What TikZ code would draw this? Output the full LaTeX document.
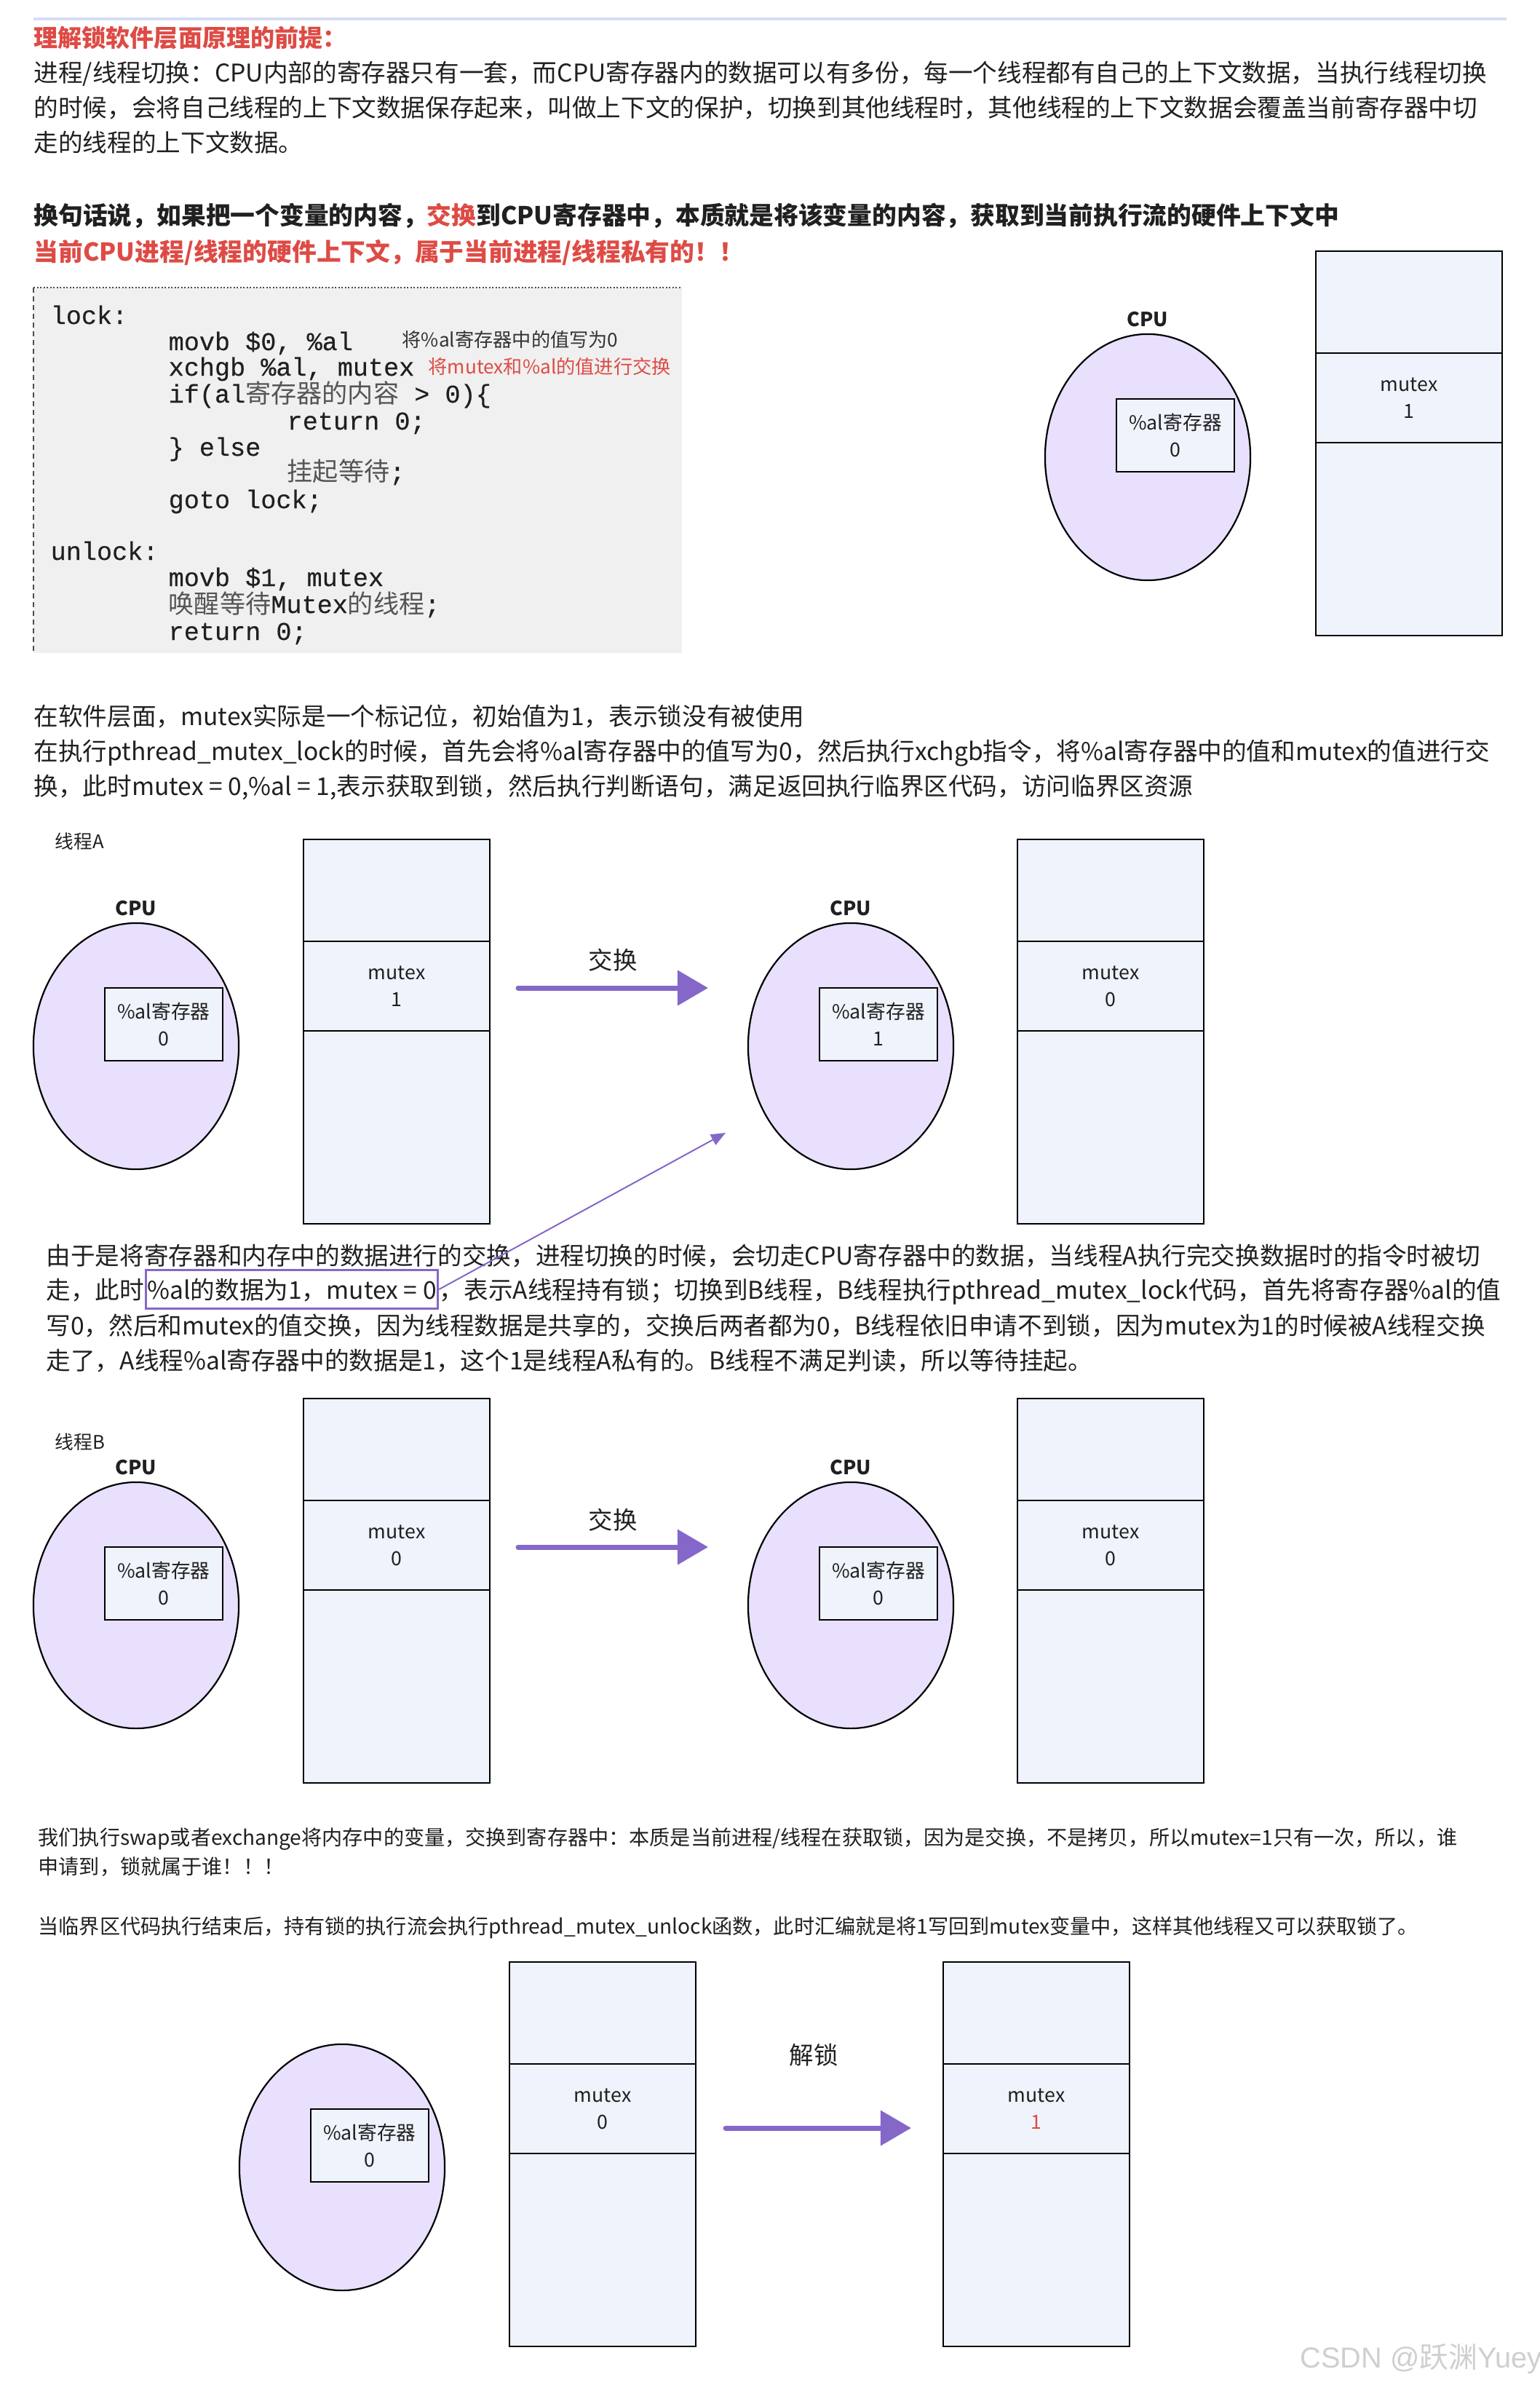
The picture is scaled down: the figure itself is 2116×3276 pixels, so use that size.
\documentclass[tikz,border=0pt]{standalone}
\usepackage{fontspec}
\setmainfont{Noto Sans CJK SC}
\newfontfamily\codefont{Liberation Mono}[FakeBold=0.4]
\newfontfamily\wmfont{Liberation Sans}
\usetikzlibrary{shapes.geometric,arrows.meta,calc}

\definecolor{txtc}{HTML}{202020}
\definecolor{redt}{HTML}{DE4B45}
\definecolor{rulec}{HTML}{D8DEF6}
\definecolor{codebg}{HTML}{F0F0F0}
\definecolor{cpufill}{HTML}{E8E0FC}
\definecolor{boxfill}{HTML}{EFF3FC}
\definecolor{arrowc}{HTML}{8567C9}
\definecolor{cjkgray}{HTML}{555555}
\definecolor{comgray}{HTML}{333333}

\newcommand\myBody{\fontsize{9.56pt}{12pt}\selectfont}
\newcommand\myBold{\fontsize{9.6pt}{12pt}\selectfont\bfseries}
\newcommand\myTitle{\fontsize{9.4pt}{12pt}\selectfont\bfseries}
\newcommand\mySmall{\fontsize{8pt}{10pt}\selectfont}
\newcommand\myDiag{\fontsize{7.6pt}{10.6pt}\selectfont}
\newcommand\myCpu{\fontsize{7.6pt}{9pt}\selectfont\bfseries}
\newcommand\myLab{\fontsize{9.5pt}{11pt}\selectfont}
\newcommand\myThr{\fontsize{7.3pt}{9pt}\selectfont}
\newcommand\myCom{\fontsize{7.45pt}{8pt}\selectfont}
\newcommand\myCode{\fontsize{10pt}{12pt}\codefont}
\newcommand\cjkg[1]{{\rmfamily\color{cjkgray}#1}}

\tikzset{
  body/.style={anchor=base west, inner sep=0pt, text=txtc, font=\myBody},
  boldln/.style={anchor=base west, inner sep=0pt, text=txtc, font=\myBold},
  smallln/.style={anchor=base west, inner sep=0pt, text=txtc, font=\mySmall},
  codeln/.style={anchor=base west, inner sep=0pt, text=txtc, font=\myCode},
  comln/.style={anchor=base west, inner sep=0pt, font=\myCom},
  cpuell/.style={ellipse, draw=black, line width=0.022cm, fill=cpufill,
    minimum width=2.82cm, minimum height=3.38cm, inner sep=0pt},
  regbox/.style={draw=black, line width=0.022cm, fill=boxfill,
    minimum width=1.62cm, minimum height=1.0cm, inner sep=0pt, align=center,
    font=\myDiag, text=txtc},
  cellbox/.style={draw=black, line width=0.022cm, fill=boxfill, outer sep=0pt,
    minimum width=2.56cm, inner sep=0pt, align=center, font=\myDiag, text=txtc},
  cpulab/.style={anchor=base, inner sep=0pt, font=\myCpu, text=txtc},
  actlab/.style={anchor=base, inner sep=0pt, font=\myLab, text=txtc},
  thrlab/.style={anchor=base west, inner sep=0pt, font=\myThr, text=txtc},
  bigarrow/.style={draw=arrowc, line width=0.07cm, line cap=round,
    -{Triangle[length=0.42cm, width=0.47cm]}},
  thinarrow/.style={draw=arrowc, line width=0.02cm,
    -{Triangle[length=0.2cm, width=0.16cm]}},
  hlbox/.style={draw=arrowc, line width=0.03cm, inner xsep=0.02cm, inner ysep=0.09cm,
    text height=0.30cm, text depth=0.04cm, text=txtc, font=\myBody},
}

% name, cx, cy, value
\newcommand\cpuunit[4]{%
  \node[cpuell] (#1) at (#2,#3) {};
  \node[regbox] (#1r) at ({#2+38},{#3-30}) {\%al寄存器\\#4};
}
% name, x, y(top), value
\newcommand\memcol[4]{%
  \node[cellbox, minimum height=1.40cm, anchor=north west] (#1t) at (#2,#3) {};
  \node[cellbox, minimum height=1.23cm, anchor=north] (#1m) at (#1t.south) {mutex\\#4};
  \node[cellbox, minimum height=2.65cm, anchor=north] (#1b) at (#1m.south) {};
}

\begin{document}
\begin{tikzpicture}[x=0.01cm, y=-0.01cm]
\fill[white] (0,0) rectangle (2116,3276);
\useasboundingbox (0,0) rectangle (2116,3276);

% top rule
\draw[rulec, line width=0.04cm] (46,26) -- (2070,26);

% title and first paragraph
\node[anchor=base west, inner sep=0pt, font=\myTitle, text=redt] (title) at (46,65) {理解锁软件层面原理的前提：};
\node[body] (p1) at (46,113) {进程/线程切换：CPU内部的寄存器只有一套，而CPU寄存器内的数据可以有多份，每一个线程都有自己的上下文数据，当执行线程切换};
\node[body] (p2) at (46,161) {的时候，会将自己线程的上下文数据保存起来，叫做上下文的保护，切换到其他线程时，其他线程的上下文数据会覆盖当前寄存器中切};
\node[body] (p3) at (46,209) {走的线程的上下文数据。};

\node[boldln] (b1) at (46,309) {换句话说，如果把一个变量的内容，\textcolor{redt}{交换}到CPU寄存器中，本质就是将该变量的内容，获取到当前执行流的硬件上下文中};
\node[boldln, text=redt] (b2) at (46,359) {当前CPU进程/线程的硬件上下文，属于当前进程/线程私有的！！};

% code block
\fill[codebg] (46,395) rectangle (937,897);
\draw[gray!60!black, line width=0.02cm, dash pattern=on 0.02cm off 0.025cm] (46,395) -- (937,395);
\draw[gray!60!black, line width=0.02cm, dash pattern=on 0.07cm off 0.05cm] (46,395) -- (46,897);

\node[codeln] (c1) at (69,445) {lock:};
\node[codeln] (c2) at (231,481) {movb \$0, \%al};
\node[comln, text=comgray] (cm1) at (552,476) {将\%al寄存器中的值写为0};
\node[codeln] (c3) at (231,516) {xchgb \%al, mutex};
\node[comln, text=redt] (cm2) at (588,514) {将mutex和\%al的值进行交换};
\node[codeln] (c4) at (231,553) {if(al\cjkg{寄存器的内容} > 0)\{};
\node[codeln] (c5) at (394,590) {return 0;};
\node[codeln] (c6) at (231,626) {\} else};
\node[codeln] (c7) at (394,660) {\cjkg{挂起等待};};
\node[codeln] (c8) at (231,698) {goto lock;};
\node[codeln] (c9) at (69,769) {unlock:};
\node[codeln] (c10) at (231,805) {movb \$1, mutex};
\node[codeln] (c11) at (231,842) {\cjkg{唤醒等待}Mutex\cjkg{的线程};};
\node[codeln] (c12) at (231,879) {return 0;};

% top-right diagram
\cpuunit{cpu0}{1577}{628}{0}
\node[cpulab] (cpu0l) at ($(cpu0.north)+(0,-9)$) {CPU};
\memcol{m0}{1808}{345}{1}

% second paragraph
\node[body] (s2a) at (46,996) {在软件层面，mutex实际是一个标记位，初始值为1，表示锁没有被使用};
\node[body] (s2b) at (46,1044) {在执行pthread\_mutex\_lock的时候，首先会将\%al寄存器中的值写为0，然后执行xchgb指令，将\%al寄存器中的值和mutex的值进行交};
\node[body] (s2c) at (46,1092) {换，此时mutex = 0,\%al = 1,表示获取到锁，然后执行判断语句，满足返回执行临界区代码，访问临界区资源};

% thread A
\node[thrlab] (thA) at (75,1165) {线程A};
\cpuunit{cpuA1}{187}{1437}{0}
\node[cpulab] (cpuA1l) at ($(cpuA1.north)+(0,-9)$) {CPU};
\memcol{mA1}{417}{1153}{1}
\coordinate (aAs) at (712,1357);
\coordinate (aAe) at (973,1357);
\draw[bigarrow] (aAs) -- (aAe);
\node[actlab] (xA) at (842,1331) {交换};
\cpuunit{cpuA2}{1169}{1437}{1}
\node[cpulab] (cpuA2l) at ($(cpuA2.north)+(0,-9)$) {CPU};
\memcol{mA2}{1398}{1153}{0}

% third paragraph
\node[body] (s3a) at (63,1737) {由于是将寄存器和内存中的数据进行的交换，进程切换的时候，会切走CPU寄存器中的数据，当线程A执行完交换数据时的指令时被切};
\node[body] (s3b) at (63,1784) {走，此时};
\node[hlbox, anchor=base west] (hl) at (s3b.base east) {\%al的数据为1，mutex = 0};
\node[body] (s3c) at (hl.base east) {，表示A线程持有锁；切换到B线程，B线程执行pthread\_mutex\_lock代码，首先将寄存器\%al的值};
\node[body] (s3d) at (63,1833) {写0，然后和mutex的值交换，因为线程数据是共享的，交换后两者都为0，B线程依旧申请不到锁，因为mutex为1的时候被A线程交换};
\node[body] (s3e) at (63,1881) {走了，A线程\%al寄存器中的数据是1，这个1是线程A私有的。B线程不满足判读，所以等待挂起。};
\coordinate (tipA) at (997,1556);
\draw[thinarrow] (hl.east) -- (tipA);

% thread B
\node[thrlab] (thB) at (75,1990) {线程B};
\cpuunit{cpuB1}{187}{2205}{0}
\node[cpulab] (cpuB1l) at ($(cpuB1.north)+(0,-9)$) {CPU};
\memcol{mB1}{417}{1921}{0}
\coordinate (aBs) at (712,2125);
\coordinate (aBe) at (973,2125);
\draw[bigarrow] (aBs) -- (aBe);
\node[actlab] (xB) at (842,2100) {交换};
\cpuunit{cpuB2}{1169}{2205}{0}
\node[cpulab] (cpuB2l) at ($(cpuB2.north)+(0,-9)$) {CPU};
\memcol{mB2}{1398}{1921}{0}

% fourth paragraph
\node[smallln] (s4a) at (52,2534) {我们执行swap或者exchange将内存中的变量，交换到寄存器中：本质是当前进程/线程在获取锁，因为是交换，不是拷贝，所以mutex=1只有一次，所以，谁};
\node[smallln] (s4b) at (52,2574) {申请到，锁就属于谁！！！};
\node[smallln] (s4c) at (52,2656) {当临界区代码执行结束后，持有锁的执行流会执行pthread\_mutex\_unlock函数，此时汇编就是将1写回到mutex变量中，这样其他线程又可以获取锁了。};

% unlock diagram
\cpuunit{cpuU}{470}{2977}{0}
\memcol{mU1}{700}{2695}{0}
\coordinate (aUs) at (997,2923);
\coordinate (aUe) at (1252,2923);
\draw[bigarrow] (aUs) -- (aUe);
\node[actlab] (xU) at (1118,2835) {解锁};
\memcol{mU2}{1296}{2695}{\textcolor{redt}{1}}

% watermark
\node[anchor=base west, inner sep=0pt, font=\fontsize{11.3pt}{13pt}\selectfont, text=gray!38] (wm) at (1786,3252) {{\wmfont CSDN @}跃渊{\wmfont Yuey}};
\end{tikzpicture}
\end{document}
